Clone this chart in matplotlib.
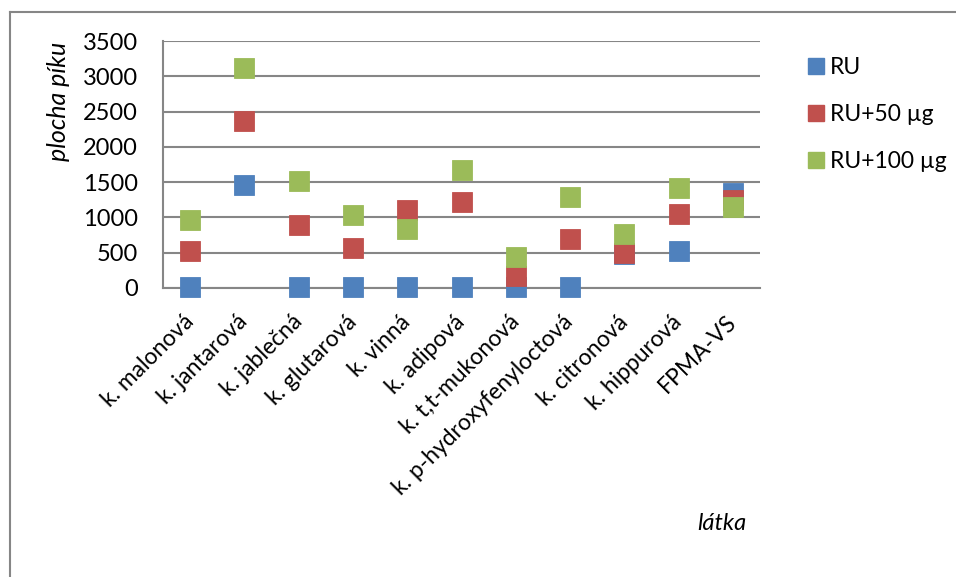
import matplotlib

matplotlib.use("Agg")
import matplotlib.pyplot as plt
from matplotlib.lines import Line2D

plt.rcParams["font.family"] = ["Lato", "DejaVu Sans"]

# peak areas per compound
substances = [
    "k. malonová",
    "k. jantarová",
    "k. jablečná",
    "k. glutarová",
    "k. vinná",
    "k. adipová",
    "k. t,t-mukonová",
    "k. p-hydroxyfenyloctová",
    "k. citronová",
    "k. hippurová",
    "FPMA-VS",
]
ru = [20, 1460, 10, 10, 10, 10, 10, 10, 480, 520, 1350]
ru_50 = [520, 2360, 890, 570, 1110, 1220, 170, 690, 500, 1045, 1250]
ru_100 = [970, 3120, 1520, 1040, 840, 1670, 436, 1290, 763, 1416, 1145]

series_names = ["RU", "RU+50 µg", "RU+100 µg"]
series_colors = ["#4F81BD", "#C0504D", "#9BBB59"]
y_ticks = [0, 500, 1000, 1500, 2000, 2500, 3000, 3500]

FS = 16.5
W, H = 956, 577
fig = plt.figure(figsize=(W / 100, H / 100), dpi=100)
ax = fig.add_axes([163 / W, 1 - 288 / H, (760 - 163) / W, (288 - 41) / H])

x = list(range(len(substances)))
for values, color in zip([ru, ru_50, ru_100], series_colors):
    ax.plot(x, values, linestyle="none", marker="s", markersize=14.4,
            markerfacecolor=color, markeredgecolor=color, markeredgewidth=0.6,
            clip_on=False, zorder=3)

ax.set_xlim(-0.5, 10.5)
ax.set_ylim(0, 3500)
ax.set_yticks(y_ticks)
ax.set_yticklabels([str(v) for v in y_ticks], fontsize=FS + 0.5)
ax.set_xticks(x)
ax.set_xticklabels(substances, fontsize=FS, rotation=45, ha="right",
                   va="center", rotation_mode="anchor")
ax.tick_params(axis="both", length=0)
ax.tick_params(axis="x", pad=22)
ax.tick_params(axis="y", pad=18)

ax.grid(axis="y", color="#868686", linewidth=1.5)
ax.set_axisbelow(True)
for side in ("top", "right"):
    ax.spines[side].set_visible(False)
for side in ("left", "bottom"):
    ax.spines[side].set_color("#868686")
    ax.spines[side].set_linewidth(1.5)

fig.text(58 / W, 1 - 101 / H, "plocha píku", rotation=90, style="italic",
         fontsize=FS + 1.5, ha="center", va="center")
fig.text(722 / W, 1 - 523 / H, "látka", style="italic", fontsize=FS + 0.5,
         ha="center", va="center")

handles = [Line2D([], [], linestyle="none", marker="s", markersize=12,
                  markerfacecolor=c, markeredgecolor=c) for c in series_colors]
fig.legend(handles, series_names, loc="upper left",
           bbox_to_anchor=(782 / W, 1 - 36 / H), frameon=False, fontsize=FS,
           handletextpad=0.0, labelspacing=1.15, handlelength=1.2)

# outer chart border (top and left edges fall inside the canvas)
fig.add_artist(Line2D([10 / W, 10 / W], [0, 1 - 12 / H], color="#868686",
                      linewidth=1.5, transform=fig.transFigure))
fig.add_artist(Line2D([10 / W, 1], [1 - 12 / H, 1 - 12 / H], color="#868686",
                      linewidth=1.5, transform=fig.transFigure))

fig.savefig("out.png", dpi=100)
